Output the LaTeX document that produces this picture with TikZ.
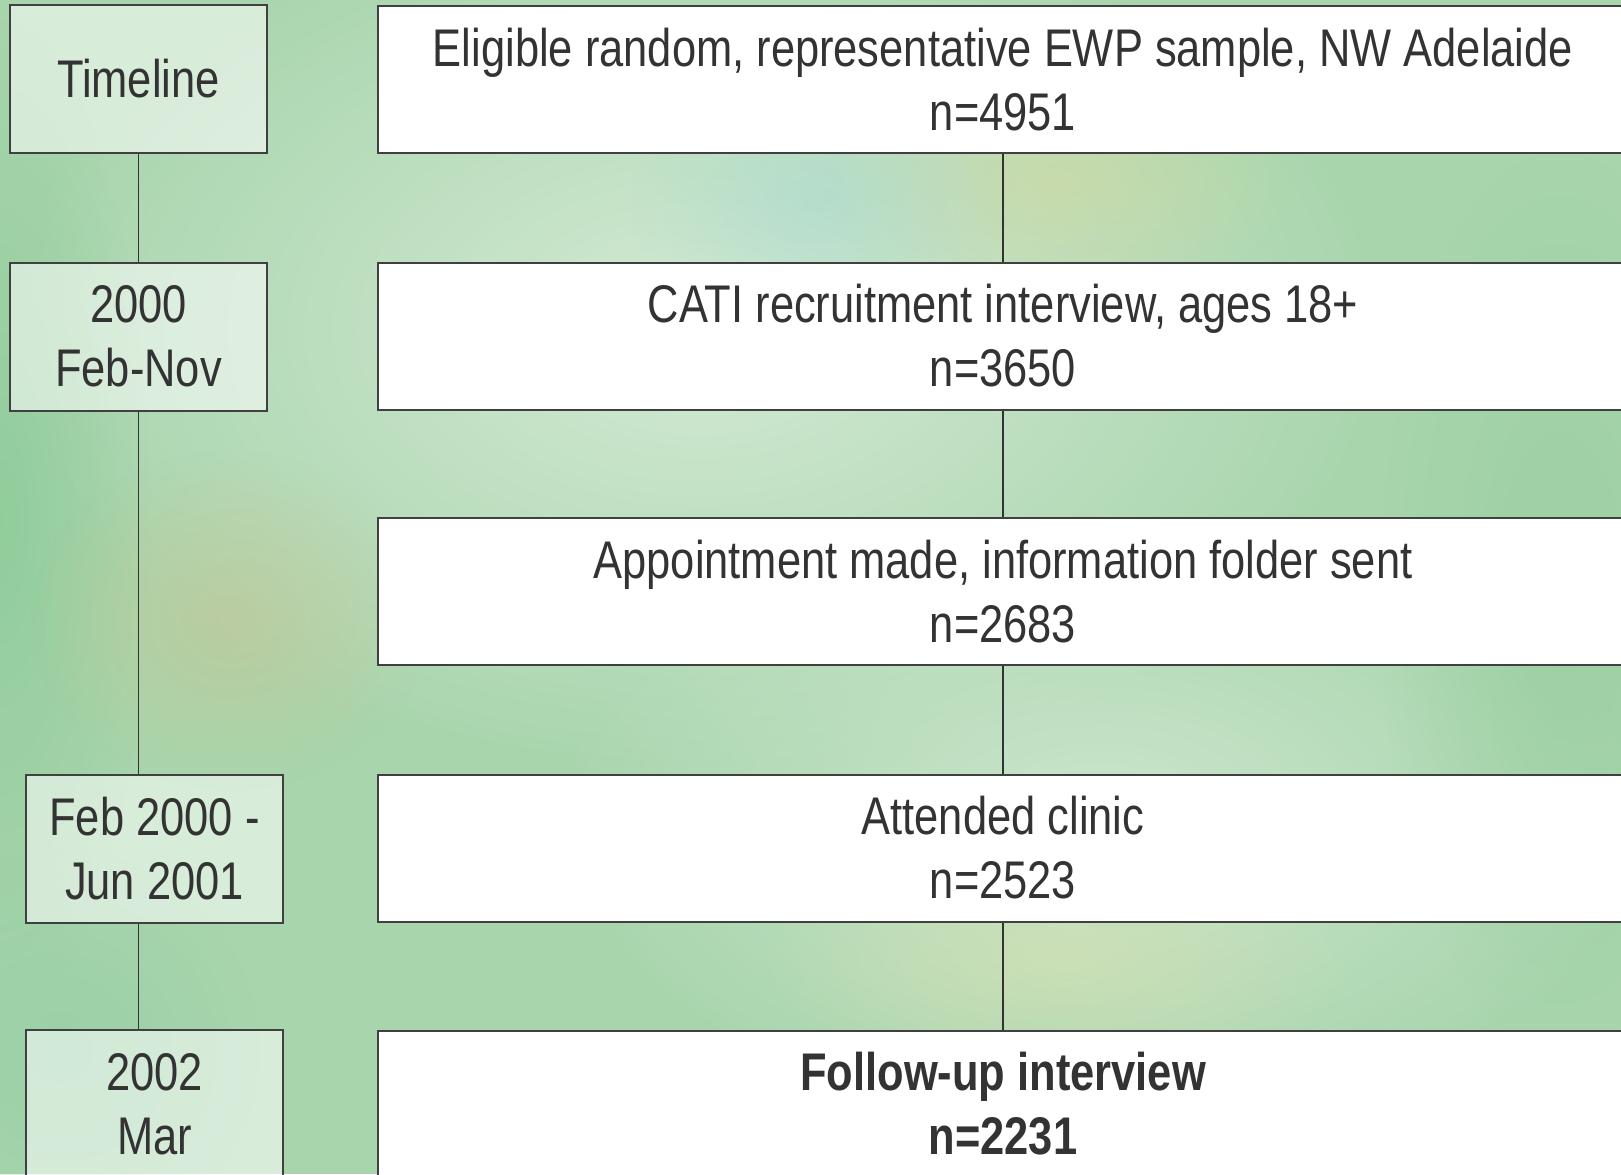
\documentclass[tikz,border=0pt]{standalone}
\usepackage{fontspec}
\setmainfont{Liberation Sans}[FakeStretch=0.82]
\usetikzlibrary{positioning,fadings}

\definecolor{bggreen}{HTML}{A8D5AC}
\definecolor{edgegreen}{HTML}{8CCB98}
\definecolor{sidegreen}{HTML}{9ACFA0}
\definecolor{cornergreen}{HTML}{97CFA6}
\definecolor{tanspot}{HTML}{C9C495}
\definecolor{yellowspot}{HTML}{D2D9A0}
\definecolor{paleyellow}{HTML}{D6E0B0}
\definecolor{bluespot}{HTML}{A6D8D2}
\definecolor{boxline}{HTML}{404040}
\definecolor{textgray}{HTML}{333333}
\tikzfading[name=blob, inner color=transparent!0, outer color=transparent!100]

\tikzset{
  datebox/.style={draw=boxline, line width=1pt, fill=white, fill opacity=0.55,
    text opacity=1, text=textgray, align=center, inner sep=0pt,
    minimum width=128.5pt, minimum height=74pt,
    font=\fontsize{26.5}{32}\selectfont},
  stagebox/.style={draw=boxline, line width=1pt, fill=white,
    text=textgray, align=center, inner sep=0pt,
    minimum width=625pt, minimum height=73.5pt,
    font=\fontsize{26.5}{32}\selectfont},
  link/.style={draw=textgray, line width=0.9pt}
}

\begin{document}
\begin{tikzpicture}[x=0.5pt,y=-0.5pt]
        \clip (0,0) rectangle (1621,1174);
        \fill[bggreen] (0,0) rectangle (1621,1174);

        % washes of colour in the background
        \fill[white!50!bggreen, path fading=blob] (700,330) ellipse (700 and 450);
        \fill[white!40!bggreen, path fading=blob] (1100,820) ellipse (550 and 320);
        \fill[edgegreen, path fading=blob, opacity=0.8] (0,520) ellipse (150 and 500);
        \fill[tanspot, path fading=blob, opacity=0.55] (230,620) ellipse (200 and 170);
        \fill[yellowspot, path fading=blob, opacity=0.6] (1060,180) ellipse (240 and 130);
        \fill[bluespot, path fading=blob, opacity=0.5] (820,200) ellipse (190 and 130);
        \fill[sidegreen, path fading=blob, opacity=0.8] (1560,600) ellipse (180 and 450);
        \fill[paleyellow, path fading=blob, opacity=0.6] (1060,960) ellipse (300 and 130);
        \fill[cornergreen, path fading=blob, opacity=0.8] (60,1050) ellipse (200 and 200);

        \node[datebox] (timeline) at (138.5,78.5) {Timeline};
        \node[datebox] (recruit) at (138.5,336.5) {2000\\Feb-Nov};
        \node[datebox] (clinic) at (154.5,848.5) {Feb 2000 -\\Jun 2001};
        \node[datebox] (follow) at (154.5,1104) {2002\\Mar};

        \node[stagebox] (eligible) at (1003,79.5) {Eligible random, representative EWP sample, NW Adelaide\\n=4951};
        \node[stagebox] (cati) at (1003,336) {CATI recruitment interview, ages 18+\\n=3650};
        \node[stagebox] (appoint) at (1003,591.5) {Appointment made, information folder sent\\n=2683};
        \node[stagebox] (attend) at (1003,848) {Attended clinic\\n=2523};
        \node[stagebox, font=\fontsize{26.5}{32}\selectfont\bfseries] (followup) at (1003,1104) {Follow-up interview\\n=2231};

        \draw[link] (timeline) -- (recruit);
        \draw[link] (recruit.south) -- (recruit.south |- clinic.north);
        \draw[link] (recruit.south |- clinic.south) -- (recruit.south |- follow.north);

        \draw[link] (eligible) -- (cati);
        \draw[link] (cati) -- (appoint);
        \draw[link] (appoint) -- (attend);
        \draw[link] (attend) -- (followup);
    \end{tikzpicture}
\end{document}
